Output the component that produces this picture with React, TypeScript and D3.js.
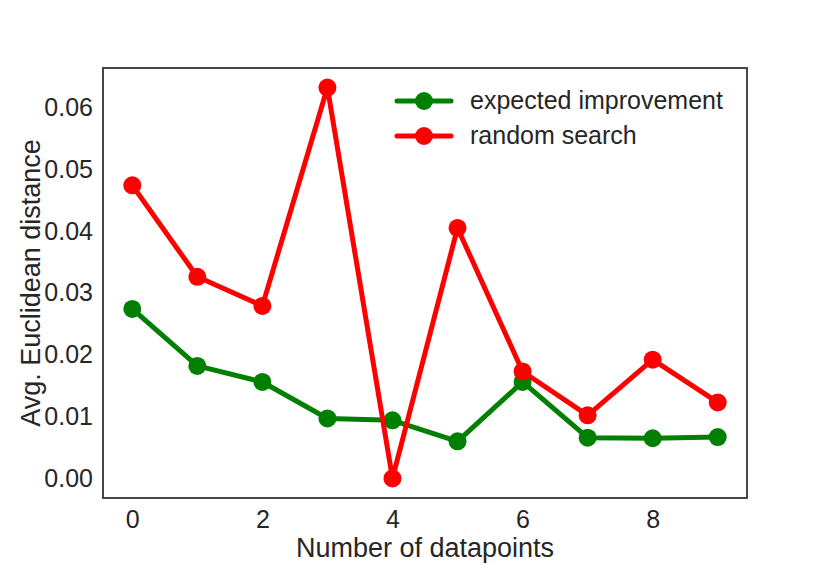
import React, { useRef, useEffect } from 'react';
import * as d3 from 'd3';

const datapoints = [0, 1, 2, 3, 4, 5, 6, 7, 8, 9];
const expectedImprovement = [0.0274, 0.0182, 0.0156, 0.0097, 0.0094, 0.0060, 0.0156, 0.0066, 0.0065, 0.0067];
const randomSearch = [0.0474, 0.0326, 0.0279, 0.0632, 0.0000, 0.0405, 0.0173, 0.0102, 0.0192, 0.0123];
const xTicks = [0, 2, 4, 6, 8];
const yTicks = [0, 0.01, 0.02, 0.03, 0.04, 0.05, 0.06];

const SERIES = [
    { label: "expected improvement", color: "#008000", values: expectedImprovement },
    { label: "random search", color: "#ff0000", values: randomSearch }
];

const W = 830;
const H = 571;
const FONT = "'Liberation Sans', Arial, sans-serif";

const App: React.FC = () => {
    const svgRef = useRef<SVGSVGElement>(null);

    useEffect(() => {
        if (!svgRef.current) return;
        const svg = d3.select(svgRef.current);
        svg.selectAll("*").remove();

        const margin = { top: 68, right: 83, bottom: 73, left: 103 };
        const width = W - margin.left - margin.right;
        const height = H - margin.top - margin.bottom;

        // matplotlib-ish 5% margins
        const xPad = (d3.max(datapoints)! - d3.min(datapoints)!) * 0.05;
        const allY = [...expectedImprovement, ...randomSearch];
        const yMin = d3.min(allY)!;
        const yMax = d3.max(allY)!;
        const yPad = (yMax - yMin) * 0.05;

        const xScale = d3.scaleLinear()
            .domain([d3.min(datapoints)! - xPad, d3.max(datapoints)! + xPad])
            .range([0, width]);
        const yScale = d3.scaleLinear()
            .domain([yMin - yPad, yMax + yPad])
            .range([height, 0]);

        const g = svg.append("g").attr("transform", `translate(${margin.left},${margin.top})`);

        const xAxis = g.append("g")
            .attr("transform", `translate(0,${height})`)
            .call(d3.axisBottom(xScale).tickValues(xTicks).tickSize(0).tickPadding(12).tickFormat(d3.format("d")));
        xAxis.select(".domain").remove();
        xAxis.selectAll("text")
            .style("font-family", FONT)
            .style("font-size", "25px")
            .attr("fill", "#262626");

        const yAxis = g.append("g")
            .call(d3.axisLeft(yScale).tickValues(yTicks).tickSize(0).tickPadding(10).tickFormat(d3.format(".2f")));
        yAxis.select(".domain").remove();
        yAxis.selectAll("text")
            .style("font-family", FONT)
            .style("font-size", "25px")
            .attr("fill", "#262626");

        g.append("rect")
            .attr("width", width)
            .attr("height", height)
            .attr("fill", "none")
            .attr("stroke", "#333")
            .attr("stroke-width", 1.8);

        const line = d3.line<number>()
            .x((_, i) => xScale(datapoints[i]))
            .y((d) => yScale(d));

        SERIES.forEach((s) => {
            g.append("path")
                .datum(s.values)
                .attr("d", line)
                .attr("fill", "none")
                .attr("stroke", s.color)
                .attr("stroke-width", 5)
                .attr("stroke-linejoin", "round");

            g.selectAll(null)
                .data(s.values)
                .join("circle")
                .attr("cx", (_, i) => xScale(datapoints[i]))
                .attr("cy", (d) => yScale(d))
                .attr("r", 9)
                .attr("fill", s.color);
        });

        // legend
        const legend = g.append("g").attr("transform", `translate(${397 - margin.left}, ${101 - margin.top})`);
        SERIES.forEach((s, i) => {
            const row = legend.append("g").attr("transform", `translate(0, ${i * 35})`);
            row.append("line")
                .attr("x1", 0)
                .attr("x2", 54)
                .attr("stroke", s.color)
                .attr("stroke-width", 5)
                .attr("stroke-linecap", "round");
            row.append("circle")
                .attr("cx", 27)
                .attr("r", 9)
                .attr("fill", s.color);
            row.append("text")
                .attr("x", 73)
                .attr("y", 8)
                .style("font-family", FONT)
                .style("font-size", "25px")
                .attr("fill", "#262626")
                .text(s.label);
        });

        g.append("text")
            .attr("x", width / 2)
            .attr("y", height + 59)
            .attr("fill", "#262626")
            .style("text-anchor", "middle")
            .style("font-family", FONT)
            .style("font-size", "27px")
            .text("Number of datapoints");

        g.append("text")
            .attr("transform", "rotate(-90)")
            .attr("x", -height / 2)
            .attr("y", -63)
            .attr("fill", "#262626")
            .style("text-anchor", "middle")
            .style("font-family", FONT)
            .style("font-size", "27px")
            .text("Avg. Euclidean distance");
    }, []);

    return (
        <svg ref={svgRef} width={W} height={H}
            style={{ position: "absolute", left: 0, top: 0, background: "#fff" }} />
    );
};

export default App;
